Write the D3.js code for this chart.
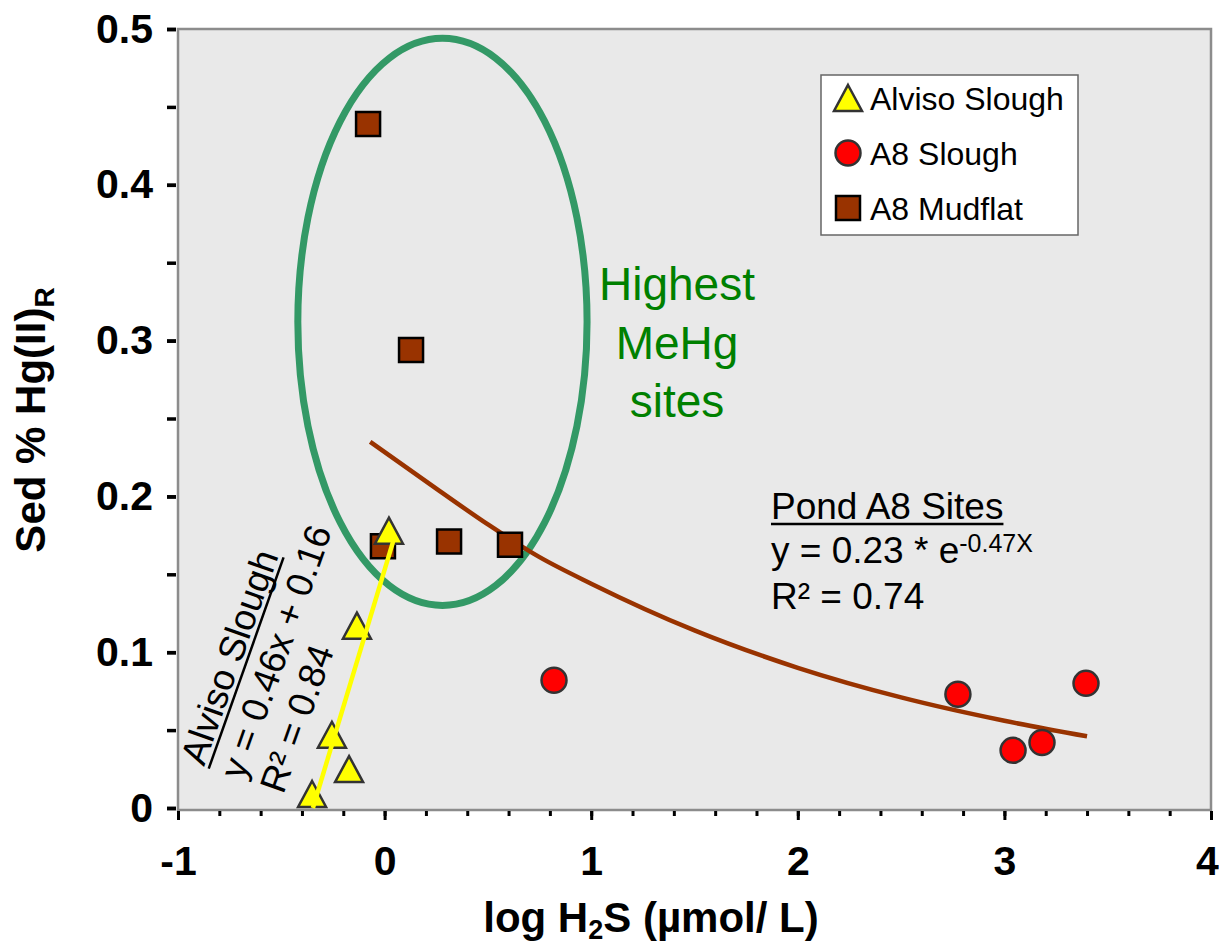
<!DOCTYPE html>
<html>
<head>
<meta charset="utf-8">
<script src="https://cdn.jsdelivr.net/npm/d3@7"></script>
<style>
  body { margin: 0; background: #fff; }
  svg { font-family: "Liberation Sans", Arial, sans-serif; }
</style>
</head>
<body>
<svg id="chart" width="1219" height="947"></svg>
<script>
// values
const alvisoX = [0.021, -0.134, -0.255, -0.172, -0.351];
const alvisoY = [0.178, 0.117, 0.047, 0.025, 0.009];

const a8SloughX = [0.820, 2.775, 3.042, 3.182, 3.395];
const a8SloughY = [0.082, 0.073, 0.037, 0.042, 0.080];

const a8MudflatX = [-0.080, 0.128, -0.008, 0.312, 0.607];
const a8MudflatY = [0.439, 0.294, 0.168, 0.171, 0.169];

// fitted lines as drawn in the figure
const alvisoFitX = [-0.347, 0.041];
const alvisoFitY = [0.0, 0.171];
const pondFitX = [-0.07, 0.25, 0.5, 0.75, 1, 1.5, 2, 2.5, 3, 3.4];
const pondFitY = [0.235, 0.205, 0.182, 0.161, 0.144, 0.114, 0.090, 0.071, 0.056, 0.046];

// "highest MeHg" ring, centre and radii in data units
const ringCenter = [0.28, 0.312];
const ringRadius = [0.70, 0.182];

const xTicks = [-1, 0, 1, 2, 3, 4];
const yTicks = [0, 0.1, 0.2, 0.3, 0.4, 0.5];

const svg = d3.select("#chart");

const x = d3.scaleLinear().domain([-1, 4]).range([178, 1211]);
const y = d3.scaleLinear().domain([0, 0.5]).range([808, 29]);

// plot background
svg.append("rect")
    .attr("x", x(-1)).attr("y", y(0.5))
    .attr("width", x(4) - x(-1)).attr("height", y(0) - y(0.5) + 2)
    .attr("fill", "#e9e9e9")
    .attr("stroke", "#8c8c8c")
    .attr("stroke-width", 2.5);

// x axis: minor ticks every 0.2, majors every 1
const xMinor = d3.range(-1, 4.001, 0.2);
svg.append("g")
    .attr("transform", "translate(0,811)")
    .call(d3.axisBottom(x).tickValues(xMinor).tickSize(5).tickFormat(""))
    .call(g => g.select(".domain").remove())
    .call(g => g.selectAll("line").attr("stroke", "#000").attr("stroke-width", 3));

svg.append("g")
    .attr("transform", "translate(0,811)")
    .call(d3.axisBottom(x).tickValues(xTicks).tickSize(9).tickFormat(d => String(d)))
    .call(g => g.select(".domain").remove())
    .call(g => g.selectAll("line").attr("stroke", "#000").attr("stroke-width", 3))
    .call(g => g.selectAll("text")
        .attr("y", 64).attr("dy", null)
        // last label sits at the page edge, nudge it in
        .attr("x", d => d === 4 ? -4 : 0)
        .attr("fill", "#000")
        .style("font-size", "41px").style("font-weight", "bold"));

// y axis: ticks every 0.05
const yMinor = d3.range(0, 0.5001, 0.05);
svg.append("g")
    .attr("transform", "translate(176,0)")
    .call(d3.axisLeft(y).tickValues(yMinor).tickSize(9).tickFormat(""))
    .call(g => g.select(".domain").remove())
    .call(g => g.selectAll("line").attr("stroke", "#000").attr("stroke-width", 3.5));

svg.append("g")
    .attr("transform", "translate(176,0)")
    .call(d3.axisLeft(y).tickValues(yTicks).tickSize(9).tickPadding(14)
        .tickFormat(d => d === 0 ? "0" : d.toFixed(1)))
    .call(g => g.select(".domain").remove())
    .call(g => g.selectAll("line").attr("stroke", "#000").attr("stroke-width", 3.5))
    .call(g => g.selectAll("text")
        .attr("fill", "#000")
        .style("font-size", "41px").style("font-weight", "bold"));

// axis titles
const xTitle = svg.append("text")
    .attr("x", 651).attr("y", 932)
    .attr("text-anchor", "middle")
    .style("font-size", "42px").style("font-weight", "bold");
xTitle.append("tspan").text("log H");
xTitle.append("tspan").text("2").style("font-size", "27px").attr("dy", 7);
xTitle.append("tspan").text("S (µmol/ L)").attr("dy", -7);

const yTitle = svg.append("text")
    .attr("transform", "rotate(-90)")
    .attr("x", -420).attr("y", 45)
    .attr("text-anchor", "middle")
    .style("font-size", "42px").style("font-weight", "bold");
yTitle.append("tspan").text("Sed % Hg(II)");
yTitle.append("tspan").text("R").style("font-size", "28px").attr("dy", 9);

// ring around the mudflat sites
svg.append("ellipse")
    .attr("cx", x(ringCenter[0])).attr("cy", y(ringCenter[1]))
    .attr("rx", x(ringCenter[0] + ringRadius[0]) - x(ringCenter[0]))
    .attr("ry", y(ringCenter[1]) - y(ringCenter[1] + ringRadius[1]))
    .attr("fill", "none")
    .attr("stroke", "#339966")
    .attr("stroke-width", 7);

// exponential fit for pond A8
const pondLine = d3.line()
    .x((d, i) => x(pondFitX[i]))
    .y(d => y(d))
    .curve(d3.curveMonotoneX);

svg.append("path")
    .attr("d", pondLine(pondFitY))
    .attr("fill", "none")
    .attr("stroke", "#993300")
    .attr("stroke-width", 4.5);

// markers
const triangle = (w, h) => `M0,${-h / 2}L${w / 2},${h / 2}L${-w / 2},${h / 2}Z`;
const square = s => `M${-s / 2},${-s / 2}h${s}v${s}h${-s}Z`;

svg.append("g").selectAll("path")
    .data(a8MudflatY)
    .join("path")
    .attr("transform", (d, i) => `translate(${x(a8MudflatX[i])},${y(d)})`)
    .attr("d", square(24))
    .attr("fill", "#993300")
    .attr("stroke", "#000")
    .attr("stroke-width", 2.5);

svg.append("g").selectAll("circle")
    .data(a8SloughY)
    .join("circle")
    .attr("cx", (d, i) => x(a8SloughX[i]))
    .attr("cy", d => y(d))
    .attr("r", 12.5)
    .attr("fill", "#ff0000")
    .attr("stroke", "#333")
    .attr("stroke-width", 2.5);

svg.append("g").selectAll("path")
    .data(alvisoY)
    .join("path")
    .attr("transform", (d, i) => `translate(${x(alvisoX[i])},${y(d)})`)
    .attr("d", triangle(28, 26))
    .attr("fill", "#ffff00")
    .attr("stroke", "#333")
    .attr("stroke-width", 2.5)
    .attr("stroke-linejoin", "miter");

// linear fit for Alviso Slough
svg.append("path")
    .attr("d", d3.line().x((d, i) => x(alvisoFitX[i])).y(d => y(d))(alvisoFitY))
    .attr("fill", "none")
    .attr("stroke", "#ffff00")
    .attr("stroke-width", 4.5);

// annotations
const mehg = svg.append("text")
    .attr("text-anchor", "middle")
    .attr("fill", "#008000")
    .style("font-size", "46px");
["Highest", "MeHg", "sites"].forEach((t, i) => {
    mehg.append("tspan").attr("x", 677).attr("y", 300 + i * 58.5).text(t);
});

// pond A8 equation block
const pond = svg.append("g").style("font-size", "37px");
const pondHead = pond.append("text").attr("x", 771).attr("y", 519).text("Pond A8 Sites");
pond.append("line")
    .attr("x1", 771).attr("x2", 771 + pondHead.node().getComputedTextLength())
    .attr("y1", 524).attr("y2", 524)
    .attr("stroke", "#000").attr("stroke-width", 2.5);
const pondEq = pond.append("text").attr("x", 771).attr("y", 563);
pondEq.append("tspan").text("y = 0.23 * e");
pondEq.append("tspan").text("-0.47X").style("font-size", "25px").attr("dy", -11);
pond.append("text").attr("x", 771).attr("y", 609).text("R² = 0.74");

// Alviso Slough equation block, rotated along the fit
const alviso = svg.append("g")
    .attr("transform", "translate(204,767) rotate(-70.5)")
    .style("font-size", "37px");
const alvHead = alviso.append("text").attr("x", 0).attr("y", 0).text("Alviso Slough");
alviso.append("line")
    .attr("x1", 0).attr("x2", alvHead.node().getComputedTextLength())
    .attr("y1", 5).attr("y2", 5)
    .attr("stroke", "#000").attr("stroke-width", 2.5);
alviso.append("text").attr("x", 0).attr("y", 42).text("y = 0.46x + 0.16");
alviso.append("text").attr("x", 0).attr("y", 84).text("R² = 0.84");

// legend
const legend = svg.append("g");
legend.append("rect")
    .attr("x", 821).attr("y", 75).attr("width", 257).attr("height", 160)
    .attr("fill", "#fff").attr("stroke", "#666").attr("stroke-width", 1.5);

const legendItems = ["Alviso Slough", "A8 Slough", "A8 Mudflat"];
const legendRows = legend.selectAll("g.row")
    .data(legendItems)
    .join("g")
    .attr("class", "row")
    .attr("transform", (d, i) => `translate(848,${98 + i * 55})`);

legendRows.each(function (d, i) {
    const row = d3.select(this);
    if (i === 0) {
        row.append("path").attr("d", triangle(28, 26))
            .attr("fill", "#ffff00").attr("stroke", "#333").attr("stroke-width", 2.5);
    } else if (i === 1) {
        row.append("circle").attr("r", 12.5)
            .attr("fill", "#ff0000").attr("stroke", "#333").attr("stroke-width", 2.5);
    } else {
        row.append("path").attr("d", square(24))
            .attr("fill", "#993300").attr("stroke", "#000").attr("stroke-width", 2.5);
    }
    row.append("text")
        .attr("x", 22).attr("y", 12)
        .style("font-size", "32px")
        .text(d);
});
</script>
</body>
</html>
